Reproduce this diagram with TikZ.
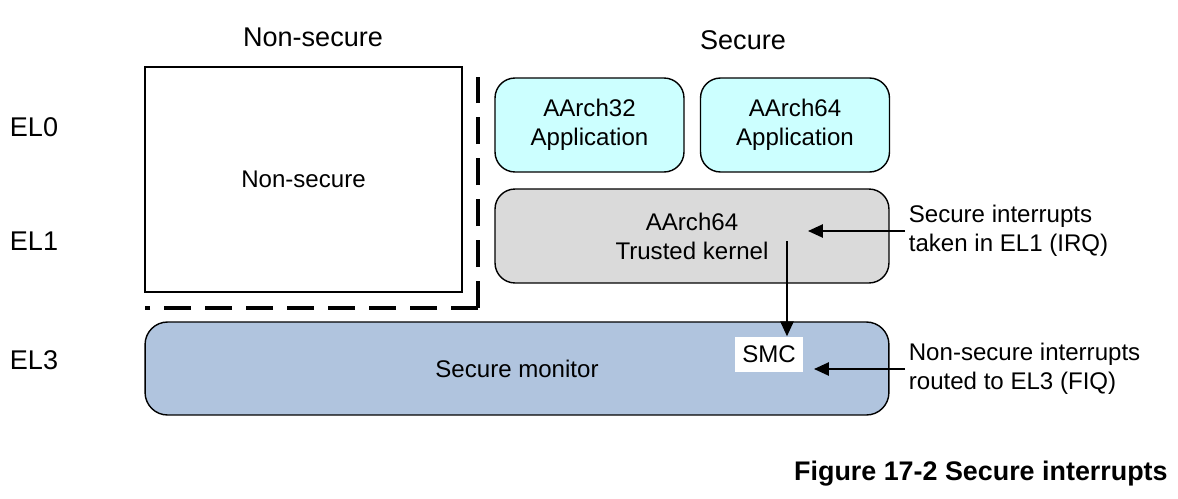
\documentclass[tikz,border=0pt]{standalone}
\usepackage{fontspec}
\setmainfont{Liberation Sans}
\usetikzlibrary{arrows.meta}

\definecolor{appcyan}{RGB}{204,255,255}
\definecolor{kernelgrey}{RGB}{218,218,218}
\definecolor{monitorblue}{RGB}{176,196,222}

\begin{document}
\begin{tikzpicture}[x=0.02cm, y=-0.02cm]

\useasboundingbox (0,0) rectangle (1178,498);

\begin{scope}[every node/.style={font=\fontsize{15.4}{18}\selectfont}]
    \node (nstitle) at (313,37) {Non-secure};
    \node (stitle) at (743,40) {Secure};
    \node (el0) at (34,127) {EL0};
    \node (el1) at (34,241) {EL1};
    \node (el3) at (34,360) {EL3};
\end{scope}

\begin{scope}[every node/.style={draw, line width=0.8pt, align=center,
                                 font=\fontsize{13.7}{16.5}\selectfont}]
    \node (ns) at (303.5,179.5) [minimum width=6.34cm, minimum height=4.5cm, fill=white] {Non-secure};
    \node (app32) at (589.5,125) [rounded corners=0.4cm, minimum width=3.78cm, minimum height=1.88cm, fill=appcyan] {AArch32\\Application};
    \node (app64) at (795,125) [rounded corners=0.4cm, minimum width=3.78cm, minimum height=1.88cm, fill=appcyan] {AArch64\\Application};
    \node (kernel) at (692,236) [rounded corners=0.4cm, minimum width=7.88cm, minimum height=1.88cm, fill=kernelgrey] {AArch64\\Trusted kernel};
    \node (monitor) at (517,368.5) [rounded corners=0.45cm, minimum width=14.88cm, minimum height=1.86cm, fill=monitorblue] {Secure monitor};
    \node (smc) at (769,354.5) [draw=none, fill=white, inner sep=0pt, minimum width=1.36cm, minimum height=0.7cm] {SMC};
\end{scope}

% secure / non-secure boundary
\coordinate (corner) at (478,308);
\draw [line width=2.2pt, dash pattern=on 0.55cm off 0.27cm] (corner) -- (478,77);
\draw [line width=2.2pt, dash pattern=on 0.55cm off 0.27cm] (corner) -- (145,308);

\begin{scope}[every node/.style={anchor=west, align=left, inner sep=2pt,
                                 font=\fontsize{13.7}{16.5}\selectfont}]
    \node (irq) at (905,231) {Secure interrupts\\taken in EL1 (IRQ)};
    \node (fiq) at (905,369) {Non-secure interrupts\\routed to EL3 (FIQ)};
\end{scope}

\coordinate (irqin) at (808,231);
\coordinate (fiqin) at (814,369);
\coordinate (smcout) at (787,241);

\begin{scope}[>={Triangle[length=8.5pt,width=7.5pt]}, line width=1.1pt]
    \draw [->] (irq.west) -- (irqin);
    \draw [->] (fiq.west) -- (fiqin);
    \draw [->] (smcout) -- (smcout |- smc.north);
\end{scope}

\node (caption) at (1168,474) [anchor=east, inner sep=0pt, font=\bfseries\fontsize{15.3}{18}\selectfont] {Figure 17-2 Secure interrupts};

\end{tikzpicture}
\end{document}
